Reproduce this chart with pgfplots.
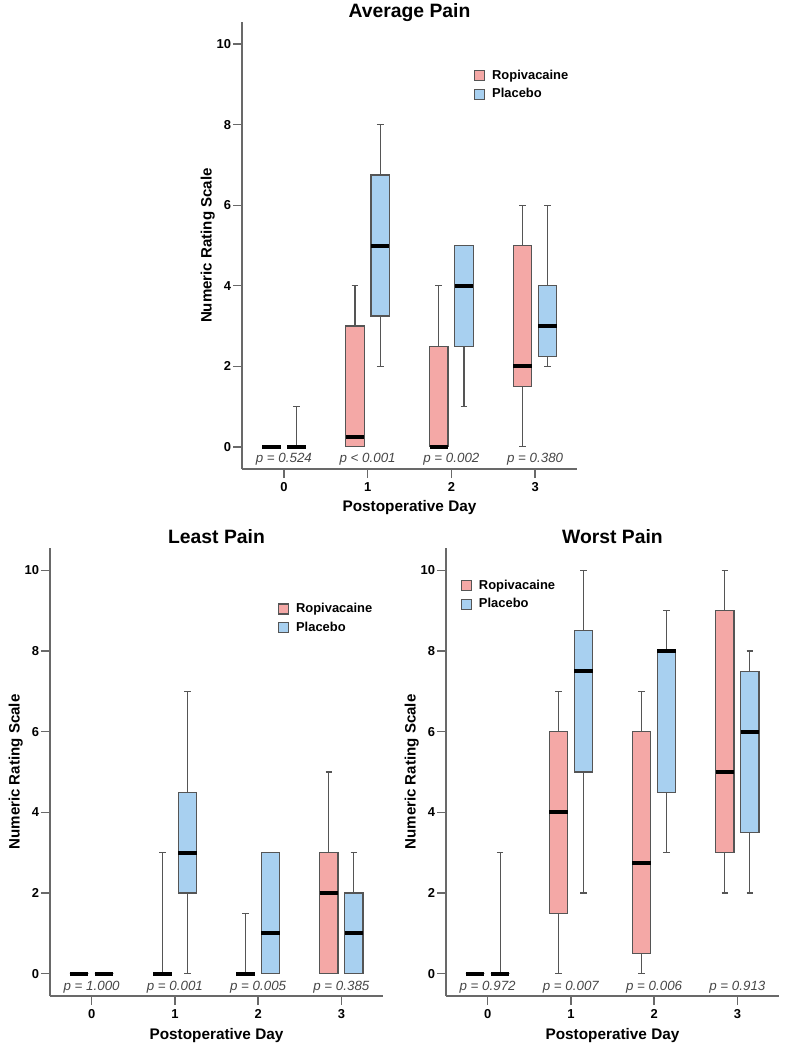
\documentclass[border=0pt]{standalone}
\usepackage{fontspec}
\setmainfont{Liberation Sans}
\usepackage{pgfplots}
\pgfplotsset{compat=1.18}
\usepgfplotslibrary{statistics}

\definecolor{ropi}{RGB}{244,168,166}
\definecolor{plac}{RGB}{168,208,240}
\definecolor{bord}{RGB}{85,85,85}
\definecolor{axg}{RGB}{105,105,105}
\definecolor{pg}{RGB}{70,70,70}

\tikzset{pv/.style={anchor=base, font=\fontsize{10}{12}\selectfont\itshape, text=pg}}
\pgfplotsset{
 painaxis/.style={
  scale only axis, anchor=south west,
  width=250pt, height=336pt,
  xmin=-0.5, xmax=3.5, ymin=-0.55, ymax=10.55,
  axis x line*=bottom, axis y line*=left,
  axis line style={axg, line width=1.1pt},
  xtick={0,1,2,3}, ytick={0,2,4,6,8,10},
  tick align=outside, major tick length=6.75pt,
  tick style={axg, line width=1pt},
  minor tick num=0,
  /pgf/number format/assume math mode=true,
  ticklabel style={font=\fontsize{9.7}{11}\selectfont\bfseries},
  yticklabel style={xshift=2pt},
  every axis title shift=0pt,
  title style={at={(axis description cs:0.5,1.011)}, anchor=base, yshift=0pt, font=\fontsize{14.5}{17}\selectfont\bfseries},
  xlabel style={at={(axis description cs:0.5,-0.096)}, anchor=base, font=\fontsize{11.5}{13}\selectfont\bfseries},
  ylabel style={at={(axis description cs:-0.091,0.5)}, anchor=base, font=\fontsize{11.3}{13}\selectfont\bfseries},
  xlabel={Postoperative Day}, ylabel={Numeric Rating Scale},
  clip=false,
  boxplot/draw direction=y,
  boxplot/box extend=0.22, boxplot/whisker extend=0.08,
  boxplot/every median/.style={black, line width=3pt},
  legend cell align=left,
  legend image code/.code={\draw[#1,line width=0.8pt] (0pt,-3.75pt) rectangle (7.5pt,3.75pt);},
  legend style={draw=none, fill=none, inner sep=0pt, row sep=0pt,
    font=\fontsize{9.7}{11}\selectfont\bfseries,
    nodes={text height=7.5pt, text depth=2.5pt, inner ysep=2pt},
    /tikz/every odd column/.append style={column sep=3pt}},
 },
 R/.style={forget plot, draw=bord, fill=ropi, line width=0.9pt, solid},
 P/.style={forget plot, draw=bord, fill=plac, line width=0.9pt, solid},
}

\begin{document}
\begin{tikzpicture}
\path[use as bounding box] (0,0) rectangle (589.5pt,-787.5pt);

% ---------------- Average Pain ----------------
\begin{axis}[painaxis, at={(181.5pt,-351.75pt)}, width=251.25pt, height=335.25pt,
  title={Average Pain},
  legend style={at={(axis description cs:0.693,0.859)}, anchor=west}]
\addlegendimage{draw=bord, fill=ropi}\addlegendentry{Ropivacaine}
\addlegendimage{draw=bord, fill=plac}\addlegendentry{Placebo}
% day 0
\addplot[R, boxplot prepared={draw position=-0.15, median=0, lower quartile=0, upper quartile=0, lower whisker=0, upper whisker=0}] coordinates {};
\addplot[P, boxplot prepared={draw position=0.15, median=0, lower quartile=0, upper quartile=0, lower whisker=0, upper whisker=1}] coordinates {};
% day 1
\addplot[R, boxplot prepared={draw position=0.85, median=0.25, lower quartile=0, upper quartile=3, lower whisker=0, upper whisker=4}] coordinates {};
\addplot[P, boxplot prepared={draw position=1.15, median=5, lower quartile=3.25, upper quartile=6.75, lower whisker=2, upper whisker=8}] coordinates {};
% day 2
\addplot[R, boxplot prepared={draw position=1.85, median=0, lower quartile=0, upper quartile=2.5, lower whisker=0, upper whisker=4}] coordinates {};
\addplot[P, boxplot prepared={draw position=2.15, median=4, lower quartile=2.5, upper quartile=5, lower whisker=1, upper whisker=5}] coordinates {};
% day 3
\addplot[R, boxplot prepared={draw position=2.85, median=2, lower quartile=1.5, upper quartile=5, lower whisker=0, upper whisker=6}] coordinates {};
\addplot[P, boxplot prepared={draw position=3.15, median=3, lower quartile=2.25, upper quartile=4, lower whisker=2, upper whisker=6}] coordinates {};
\node[pv] at (axis cs:0,-0.40) {p = 0.524};
\node[pv] at (axis cs:1,-0.40) {p < 0.001};
\node[pv] at (axis cs:2,-0.40) {p = 0.002};
\node[pv] at (axis cs:3,-0.40) {p = 0.380};
\end{axis}

% ---------------- Least Pain ----------------
\begin{axis}[painaxis, at={(37.5pt,-747pt)}, width=249.75pt, height=336pt,
  title={Least Pain},
  legend style={at={(axis description cs:0.685,0.843)}, anchor=west}]
\addlegendimage{draw=bord, fill=ropi}\addlegendentry{Ropivacaine}
\addlegendimage{draw=bord, fill=plac}\addlegendentry{Placebo}
% day 0
\addplot[R, boxplot prepared={draw position=-0.15, median=0, lower quartile=0, upper quartile=0, lower whisker=0, upper whisker=0}] coordinates {};
\addplot[P, boxplot prepared={draw position=0.15, median=0, lower quartile=0, upper quartile=0, lower whisker=0, upper whisker=0}] coordinates {};
% day 1
\addplot[R, boxplot prepared={draw position=0.85, median=0, lower quartile=0, upper quartile=0, lower whisker=0, upper whisker=3}] coordinates {};
\addplot[P, boxplot prepared={draw position=1.15, median=3, lower quartile=2, upper quartile=4.5, lower whisker=0, upper whisker=7}] coordinates {};
% day 2
\addplot[R, boxplot prepared={draw position=1.85, median=0, lower quartile=0, upper quartile=0, lower whisker=0, upper whisker=1.5}] coordinates {};
\addplot[P, boxplot prepared={draw position=2.15, median=1, lower quartile=0, upper quartile=3, lower whisker=0, upper whisker=3}] coordinates {};
% day 3
\addplot[R, boxplot prepared={draw position=2.85, median=2, lower quartile=0, upper quartile=3, lower whisker=0, upper whisker=5}] coordinates {};
\addplot[P, boxplot prepared={draw position=3.15, median=1, lower quartile=0, upper quartile=2, lower whisker=0, upper whisker=3}] coordinates {};
\node[pv] at (axis cs:0,-0.42) {p = 1.000};
\node[pv] at (axis cs:1,-0.42) {p = 0.001};
\node[pv] at (axis cs:2,-0.42) {p = 0.005};
\node[pv] at (axis cs:3,-0.42) {p = 0.385};
\end{axis}

% ---------------- Worst Pain ----------------
\begin{axis}[painaxis, at={(334.5pt,-747pt)}, width=249.75pt, height=336pt,
  title={Worst Pain},
  legend style={at={(axis description cs:0.045,0.895)}, anchor=west}]
\addlegendimage{draw=bord, fill=ropi}\addlegendentry{Ropivacaine}
\addlegendimage{draw=bord, fill=plac}\addlegendentry{Placebo}
% day 0
\addplot[R, boxplot prepared={draw position=-0.15, median=0, lower quartile=0, upper quartile=0, lower whisker=0, upper whisker=0}] coordinates {};
\addplot[P, boxplot prepared={draw position=0.15, median=0, lower quartile=0, upper quartile=0, lower whisker=0, upper whisker=3}] coordinates {};
% day 1
\addplot[R, boxplot prepared={draw position=0.85, median=4, lower quartile=1.5, upper quartile=6, lower whisker=0, upper whisker=7}] coordinates {};
\addplot[P, boxplot prepared={draw position=1.15, median=7.5, lower quartile=5, upper quartile=8.5, lower whisker=2, upper whisker=10}] coordinates {};
% day 2
\addplot[R, boxplot prepared={draw position=1.85, median=2.75, lower quartile=0.5, upper quartile=6, lower whisker=0, upper whisker=7}] coordinates {};
\addplot[P, boxplot prepared={draw position=2.15, median=8, lower quartile=4.5, upper quartile=8, lower whisker=3, upper whisker=9}] coordinates {};
% day 3
\addplot[R, boxplot prepared={draw position=2.85, median=5, lower quartile=3, upper quartile=9, lower whisker=2, upper whisker=10}] coordinates {};
\addplot[P, boxplot prepared={draw position=3.15, median=6, lower quartile=3.5, upper quartile=7.5, lower whisker=2, upper whisker=8}] coordinates {};
\node[pv] at (axis cs:0,-0.42) {p = 0.972};
\node[pv] at (axis cs:1,-0.42) {p = 0.007};
\node[pv] at (axis cs:2,-0.42) {p = 0.006};
\node[pv] at (axis cs:3,-0.42) {p = 0.913};
\end{axis}
\end{tikzpicture}
\end{document}
